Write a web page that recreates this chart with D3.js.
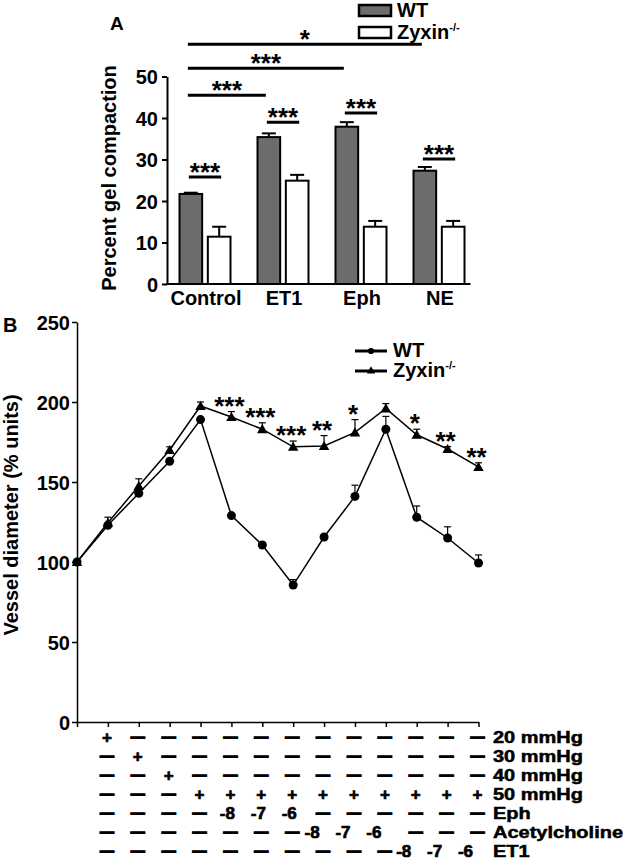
<!DOCTYPE html>
<html><head><meta charset="utf-8">
<script src="https://cdn.jsdelivr.net/npm/d3@7"></script>
<style>
body{margin:0;background:#fff}
svg{display:block}
text{font-family:"Liberation Sans",Arial,sans-serif;font-weight:bold;fill:#000}
</style>
</head><body><svg id="c" width="628" height="861"></svg>
<script>
// ---------- Panel A data ----------
const groupsA = ["Control", "ET1", "Eph", "NE"];
const seriesA = ["WT", "Zyxin"];
const wtA = [21.7, 35.4, 37.9, 27.3];
const wtErrA = [0.3, 0.9, 1.1, 0.9];
const zyxA = [11.4, 24.9, 13.8, 13.8];
const zyxErrA = [2.4, 1.4, 1.4, 1.4];
const ticksA = [0, 10, 20, 30, 40, 50];
const pairLevelA = [25.8, 39.0, 41.2, 30.1];
const pairLabelA = ["***", "***", "***", "***"];
const longToA = ["ET1", "Eph", "NE"];
const longLevelA = [45.5, 52.0, 57.8];
const longLabelA = ["***", "***", "*"];

// ---------- Panel B data ----------
const stepsB = [0, 1, 2, 3, 4, 5, 6, 7, 8, 9, 10, 11, 12, 13];
const wtB = [100, 123, 143, 163, 189, 129, 110.6, 85.6, 115.6, 141, 183, 128, 115, 99.4];
const wtErrB = [0, 1, 1, 1, 1, 1, 1.5, 3.4, 1, 7, 8, 7, 7, 5];
const zyxB = [100, 124.5, 147.5, 170, 197.5, 190.6, 183, 172, 172.5, 181, 196, 179.5, 170.6, 159.4];
const zyxErrB = [0, 3.5, 4.5, 2, 2.5, 3.4, 4, 3.6, 6.5, 8, 3, 3.5, 1.5, 2.6];
const ticksB = [0, 50, 100, 150, 200, 250];
const starsB = ["", "", "", "", "", "***", "***", "***", "**", "*", "", "*", "**", "**"];

const rowLabelsB = ["20 mmHg", "30 mmHg", "40 mmHg", "50 mmHg", "Eph", "Acetylcholine", "ET1"];
const row20 = ["+", "–", "–", "–", "–", "–", "–", "–", "–", "–", "–", "–", "–"];
const row30 = ["–", "+", "–", "–", "–", "–", "–", "–", "–", "–", "–", "–", "–"];
const row40 = ["–", "–", "+", "–", "–", "–", "–", "–", "–", "–", "–", "–", "–"];
const row50 = ["–", "–", "–", "+", "+", "+", "+", "+", "+", "+", "+", "+", "+"];
const rowEph = ["–", "–", "–", "–", "-8", "-7", "-6", "–", "–", "–", "–", "–", "–"];
const rowACh = ["–", "–", "–", "–", "–", "–", "–", "-8", "-7", "-6", "–", "–", "–"];
const rowET1 = ["–", "–", "–", "–", "–", "–", "–", "–", "–", "–", "-8", "-7", "-6"];
const tableB = [row20, row30, row40, row50, rowEph, rowACh, rowET1];

const svg = d3.select("#c");

// ================= Panel A =================
const xA = d3.scaleBand().domain(groupsA).range([166, 478]);
const xA1 = d3.scaleBand().domain(seriesA).range([-25.5, 25.5]).paddingInner(0.2);
const yA = d3.scaleLinear().domain([0, 50]).range([284, 76.5]);
const gc = g => xA(g) + xA.bandwidth() / 2;
const bw = xA1.bandwidth();
const barCenter = (g, s) => gc(g) + xA1(s) + bw / 2;

const barsA = [];
groupsA.forEach((g, i) => {
  barsA.push({g, s: "WT", v: wtA[i], e: wtErrA[i]});
  barsA.push({g, s: "Zyxin", v: zyxA[i], e: zyxErrA[i]});
});
const fillA = {WT: "#6c6c6c", Zyxin: "#ffffff"};

const gA = svg.append("g");
gA.selectAll(".eA").data(barsA).join("g").each(function(d) {
  const g = d3.select(this), x = barCenter(d.g, d.s);
  g.append("line").attr("x1", x).attr("x2", x).attr("y1", yA(d.v)).attr("y2", yA(d.v + d.e))
    .attr("stroke", "#000").attr("stroke-width", 2);
  g.append("line").attr("x1", x - 7).attr("x2", x + 7).attr("y1", yA(d.v + d.e)).attr("y2", yA(d.v + d.e))
    .attr("stroke", "#000").attr("stroke-width", 2);
});
gA.selectAll(".bA").data(barsA).join("rect")
  .attr("x", d => gc(d.g) + xA1(d.s)).attr("width", bw)
  .attr("y", d => yA(d.v)).attr("height", d => yA(0) - yA(d.v))
  .attr("fill", d => fillA[d.s]).attr("stroke", "#000").attr("stroke-width", 2);

const axA = gA.append("g").attr("transform", "translate(167,0)")
  .call(d3.axisLeft(yA).tickValues(ticksA).tickSize(5).tickSizeOuter(0).tickPadding(4));
axA.selectAll("path,line").attr("stroke", "#000").attr("stroke-width", 2);
axA.selectAll("text").style("font-size", "20px").attr("dy", "0.36em");
gA.append("line").attr("x1", 166).attr("x2", barCenter("NE", "Zyxin") + bw / 2 + 6)
  .attr("y1", yA(0)).attr("y2", yA(0)).attr("stroke", "#000").attr("stroke-width", 2);

gA.selectAll(".cat").data(groupsA).join("text")
  .attr("x", d => gc(d) + 1).attr("y", 305).attr("text-anchor", "middle")
  .style("font-size", "20px").text(d => d);

groupsA.forEach((g, i) => {
  const x1 = barCenter(g, "WT"), x2 = barCenter(g, "Zyxin"), y = yA(pairLevelA[i]);
  gA.append("line").attr("x1", x1 - 2).attr("x2", x2 + 2).attr("y1", y).attr("y2", y)
    .attr("stroke", "#000").attr("stroke-width", 3);
  gA.append("text").attr("x", (x1 + x2) / 2).attr("y", y + 4).attr("text-anchor", "middle")
    .style("font-size", "26px").text(pairLabelA[i]);
});
longToA.forEach((g, i) => {
  const x1 = barCenter("Control", "WT") - 3, x2 = barCenter(g, "WT") - 3, y = yA(longLevelA[i]);
  gA.append("line").attr("x1", x1).attr("x2", x2).attr("y1", y).attr("y2", y)
    .attr("stroke", "#000").attr("stroke-width", 3);
  gA.append("text").attr("x", (x1 + x2) / 2).attr("y", y + 4).attr("text-anchor", "middle")
    .style("font-size", "26px").text(longLabelA[i]);
});

const legA = gA.append("g");
seriesA.forEach((s, i) => {
  legA.append("rect").attr("x", 359).attr("y", 5 + i * 22).attr("width", 32).attr("height", 11)
    .attr("fill", fillA[s]).attr("stroke", "#000").attr("stroke-width", 2.5);
  const t = legA.append("text").attr("x", 397).attr("y", 17 + i * 22).style("font-size", "20px").text(s);
  if (s === "Zyxin") t.append("tspan").attr("dy", -8).style("font-size", "11px").text("-/-");
});

gA.append("text").attr("x", 110).attr("y", 30).style("font-size", "19px").text("A");
gA.append("text").attr("transform", "translate(116,178) rotate(-90)").attr("text-anchor", "middle")
  .style("font-size", "20px").text("Percent gel compaction");

// ================= Panel B =================
const xB = d3.scaleLinear().domain([0, 13]).range([77, 478.5]);
const yB = d3.scaleLinear().domain([0, 250]).range([722, 322]);
const gB = svg.append("g");

const axBy = gB.append("g").attr("transform", "translate(77,0)")
  .call(d3.axisLeft(yB).tickValues(ticksB).tickSize(5).tickSizeOuter(0).tickPadding(2));
axBy.selectAll("path,line").attr("stroke", "#000").attr("stroke-width", 1.5);
axBy.selectAll("text").style("font-size", "20px").attr("dy", "0.36em");

const axBx = gB.append("g").attr("transform", "translate(0,722)")
  .call(d3.axisBottom(xB).tickValues(stepsB).tickFormat("").tickSize(5).tickSizeOuter(0));
axBx.selectAll("path,line").attr("stroke", "#000").attr("stroke-width", 1.5);

const lineGen = d3.line().x((d, i) => xB(stepsB[i])).y(d => yB(d));
const seriesB = [
  {name: "Zyxin", vals: zyxB, errs: zyxErrB, sym: d3.symbolTriangle},
  {name: "WT", vals: wtB, errs: wtErrB, sym: d3.symbolCircle}
];
seriesB.forEach(s => {
  const g = gB.append("g");
  s.vals.forEach((v, i) => {
    if (!s.errs[i]) return;
    const x = xB(stepsB[i]), y0 = yB(v), y1 = yB(v + s.errs[i]);
    g.append("line").attr("x1", x).attr("x2", x).attr("y1", y0).attr("y2", y1).attr("stroke", "#000").attr("stroke-width", 1.2);
    g.append("line").attr("x1", x - 3.5).attr("x2", x + 3.5).attr("y1", y1).attr("y2", y1).attr("stroke", "#000").attr("stroke-width", 1.2);
  });
  g.append("path").datum(s.vals).attr("d", lineGen).attr("fill", "none").attr("stroke", "#000").attr("stroke-width", 1.5);
  g.selectAll("path.m").data(s.vals).join("path").attr("class", "m")
    .attr("transform", (d, i) => `translate(${xB(stepsB[i])},${yB(d) + (s.name === "Zyxin" ? 1 : 0)})`)
    .attr("d", d3.symbol().type(s.sym).size(s.name === "Zyxin" ? 48 : 64)).attr("fill", "#000");
});

gB.selectAll(".sB").data(starsB).join("text")
  .attr("x", (d, i) => xB(stepsB[i]) - 2)
  .attr("y", (d, i) => yB(zyxB[i] + zyxErrB[i]) + 3)
  .attr("text-anchor", "middle").style("font-size", "26px").text(d => d);

seriesB.slice().reverse().forEach((s, i) => {
  const y = 351 + i * 20;
  gB.append("line").attr("x1", 355).attr("x2", 387).attr("y1", y).attr("y2", y).attr("stroke", "#000").attr("stroke-width", 3);
  gB.append("path").attr("transform", `translate(371,${y})`)
    .attr("d", d3.symbol().type(s.sym).size(30)).attr("fill", "#000");
  const t = gB.append("text").attr("x", 393).attr("y", y + 6).style("font-size", "20px").text(s.name);
  if (s.name === "Zyxin") t.append("tspan").attr("dy", -8).style("font-size", "11px").text("-/-");
});

gB.append("text").attr("x", 3).attr("y", 332).style("font-size", "20px").text("B");
gB.append("text").attr("transform", "translate(18,515) rotate(-90)").attr("text-anchor", "middle")
  .style("font-size", "20px").text("Vessel diameter (% units)");

// condition table
const rowY = d3.scalePoint().domain(rowLabelsB).range([743, 857]);
const numShift = {"Eph": -4, "Acetylcholine": -12, "ET1": -13};
tableB.forEach((row, r) => {
  const lab = rowLabelsB[r], y = rowY(lab);
  gB.selectAll(null).data(row).join("text")
    .attr("x", (d, i) => xB(stepsB[i + 1]) + (d.startsWith("-") ? (numShift[lab] || -6) : -1))
    .attr("y", d => d === "–" ? y - 1 : y).attr("text-anchor", "middle")
    .style("font-size", d => d === "–" ? "14px" : "17px")
    .attr("stroke", "#000").attr("stroke-width", d => d === "–" ? 1.2 : 0.7)
    .text(d => d === "–" ? "—" : d);
  // row label: measured at 20px, drawn at 16.8px and widened to the same length
  const t = gB.append("text").attr("x", 493).attr("y", y).style("font-size", "20px").text(lab);
  const w = t.node().getComputedTextLength();
  t.style("font-size", "16.8px").attr("textLength", w).attr("lengthAdjust", "spacingAndGlyphs")
    .attr("stroke", "#000").attr("stroke-width", 0.5);
});
</script>
</body></html>
